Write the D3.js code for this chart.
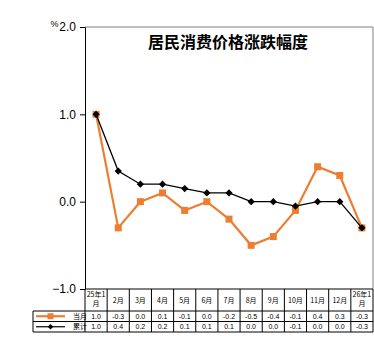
<!DOCTYPE html>
<html><head><meta charset="utf-8">
<script src="https://cdn.jsdelivr.net/npm/d3@7"></script>
<style>body{margin:0;background:#fff}svg{display:block}</style>
</head><body>
<script>
const categories = ["25年1月","2月","3月","4月","5月","6月","7月","8月","9月","10月","11月","12月","26年1月"];
const categoryLines = [["25年1","月"],["2月"],["3月"],["4月"],["5月"],["6月"],["7月"],["8月"],["9月"],["10月"],["11月"],["12月"],["26年1","月"]];
const monthly = [1.0,-0.3,0.0,0.1,-0.1,0.0,-0.2,-0.5,-0.4,-0.1,0.4,0.3,-0.3];
const cumulative = [1.0,0.35,0.2,0.2,0.15,0.1,0.1,0.0,0.0,-0.05,0.0,0.0,-0.3];
const monthlyLabels = ["1.0","-0.3","0.0","0.1","-0.1","0.0","-0.2","-0.5","-0.4","-0.1","0.4","0.3","-0.3"];
const cumulativeLabels = ["1.0","0.4","0.2","0.2","0.1","0.1","0.1","0.0","0.0","-0.1","0.0","0.0","-0.3"];
const seriesNames = ["当月","累计"];
const yTicks = [-1.0,0.0,1.0,2.0];
const title = "居民消费价格涨跌幅度";

const W=374,H=348;
const L=85,R=373,T=27,B=289;
const svg=d3.select("body").append("svg").attr("width",W).attr("height",H);
const x=d3.scaleBand().domain(categories).range([L,R]);
const y=d3.scaleLinear().domain([-1,2]).range([B,T]);
const orange="#ED7D31";
const cjk="'Noto Sans CJK SC', sans-serif";
const lat="'Liberation Sans', Arial, sans-serif";

// plot border (gray top/right)
svg.append("path").attr("d",`M${L},${T}H${R}V${B}`).attr("fill","none").attr("stroke","#808080").attr("stroke-width",1);

// y axis
const ax=svg.append("g").attr("transform",`translate(${L},0)`)
  .call(d3.axisLeft(y).tickValues(yTicks).tickFormat(d3.format(".1f")).tickSizeOuter(0).tickSize(5).tickPadding(4));
ax.select(".domain").attr("stroke","#000");
ax.selectAll("text").attr("font-family",lat).attr("font-size",12).attr("fill","#000");
svg.append("text").attr("x",58.5).attr("y",27).attr("text-anchor","end").attr("font-family",lat).attr("font-size",9).text("%");

// title
svg.append("text").attr("x",228).attr("y",48).attr("text-anchor","middle").attr("font-family",cjk).attr("font-weight","bold").attr("font-size",16).text(title);

const cx=d=>x(d)+x.bandwidth()/2;
// lines
const line=d3.line().x((d,i)=>cx(categories[i])).y(d=>y(d));
svg.append("path").datum(monthly).attr("d",line).attr("fill","none").attr("stroke",orange).attr("stroke-width",2.2);
svg.selectAll(".sq").data(monthly).enter().append("rect")
  .attr("x",(d,i)=>cx(categories[i])-3.5).attr("y",d=>y(d)-3.5).attr("width",7).attr("height",7).attr("fill",orange);
svg.append("path").datum(cumulative).attr("d",line).attr("fill","none").attr("stroke","#000").attr("stroke-width",1.3);
const dia=d3.symbol().type(d3.symbolDiamond2).size(34);
svg.selectAll(".dm").data(cumulative).enter().append("path")
  .attr("d",dia).attr("transform",(d,i)=>`translate(${cx(categories[i])},${y(d)})`).attr("fill","#000");

// table
const r0=B,r1=311,r2=321.5,r3=332,legL=33;
const tg=svg.append("g").attr("stroke","#000").attr("stroke-width",1);
tg.append("line").attr("x1",L).attr("x2",R).attr("y1",r0).attr("y2",r0);
[r1,r2,r3].forEach(r=>tg.append("line").attr("x1",legL).attr("x2",R).attr("y1",r).attr("y2",r));
tg.append("line").attr("x1",legL).attr("x2",legL).attr("y1",r1).attr("y2",r3);
categories.forEach(c=>tg.append("line").attr("x1",x(c)).attr("x2",x(c)).attr("y1",r0).attr("y2",r3));
tg.append("line").attr("x1",R).attr("x2",R).attr("y1",r0).attr("y2",r3);

const fs=7;
categories.forEach((c,i)=>{
  const ls=categoryLines[i];
  ls.forEach((t,j)=>{
    const yy = ls.length===1 ? (r0+r1)/2+2.5 : r0+8+j*9;
    svg.append("text").attr("x",cx(c)).attr("y",yy).attr("text-anchor","middle").attr("font-family",cjk).attr("font-size",fs).text(t);
  });
  svg.append("text").attr("x",cx(c)).attr("y",(r1+r2)/2+2.5).attr("text-anchor","middle").attr("font-family",lat).attr("font-size",fs).text(monthlyLabels[i]);
  svg.append("text").attr("x",cx(c)).attr("y",(r2+r3)/2+2.5).attr("text-anchor","middle").attr("font-family",lat).attr("font-size",fs).text(cumulativeLabels[i]);
});
// legend keys
const m1=(r1+r2)/2,m2=(r2+r3)/2;
svg.append("line").attr("x1",36).attr("x2",65).attr("y1",m1).attr("y2",m1).attr("stroke",orange).attr("stroke-width",2.2);
svg.append("rect").attr("x",47.5).attr("y",m1-3).attr("width",6).attr("height",6).attr("fill",orange);
svg.append("line").attr("x1",36).attr("x2",65).attr("y1",m2).attr("y2",m2).attr("stroke","#000").attr("stroke-width",1.2);
svg.append("path").attr("d",d3.symbol().type(d3.symbolDiamond2).size(20)).attr("transform",`translate(50.5,${m2})`).attr("fill","#000");
[m1,m2].forEach((m,i)=>svg.append("text").attr("x",73).attr("y",m+2.5).attr("font-family",cjk).attr("font-size",fs).text(seriesNames[i]));
</script>
</body></html>
